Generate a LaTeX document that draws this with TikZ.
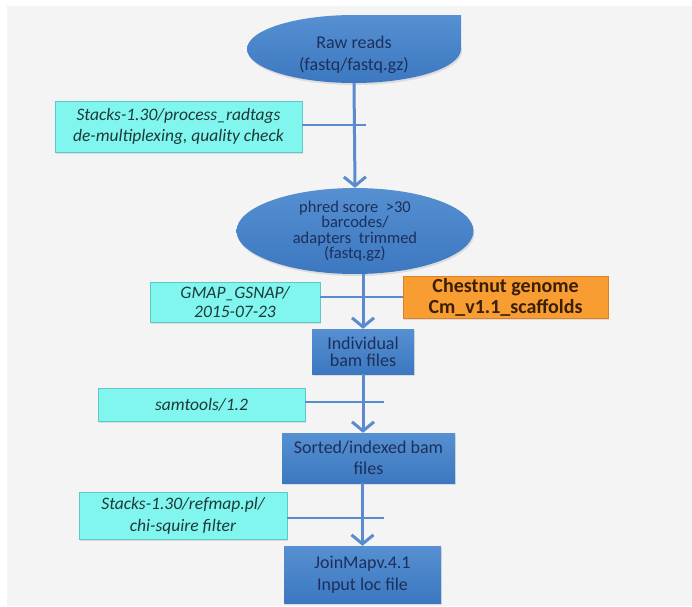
\documentclass[tikz,border=0pt]{standalone}
\usepackage{fontspec}
\setmainfont{Carlito}
\usetikzlibrary{arrows.meta,shapes.geometric,shadows}
\definecolor{bgpanel}{HTML}{F4F4F4}
\definecolor{flowblue}{HTML}{5B8BCF}
\definecolor{shapetop}{HTML}{5690D2}
\definecolor{shapebot}{HTML}{3C78C0}
\definecolor{navytext}{HTML}{1C2F5A}
\definecolor{cyanfill}{HTML}{80F6EF}
\definecolor{cyanline}{HTML}{5CC9C6}
\definecolor{cyantext}{HTML}{1E3A38}
\definecolor{orangefill}{HTML}{F79D32}
\definecolor{orangeline}{HTML}{D9822A}
\definecolor{orangetext}{HTML}{3A1E06}
\tikzset{
  blueshape/.style={top color=shapetop, bottom color=shapebot, draw=none,
    text=navytext, font=\fontsize{18}{21}\selectfont, align=center, inner sep=0pt,
    drop shadow={opacity=0.2, shadow xshift=1pt, shadow yshift=-2pt}},
  bluebox/.style={blueshape, rectangle},
  blueell/.style={blueshape, ellipse},
  bluetext/.style={text=navytext, font=\fontsize{18}{22}\selectfont, align=center, inner sep=0pt},
  toolbox/.style={rectangle, fill=cyanfill, draw=cyanline, line width=0.8pt,
    text=cyantext, font=\fontsize{17.5}{21}\selectfont\itshape, align=center, inner sep=0pt,
    drop shadow={opacity=0.2, shadow xshift=1pt, shadow yshift=-1.5pt}},
  refbox/.style={rectangle, fill=orangefill, draw=orangeline, line width=0.8pt,
    text=orangetext, font=\fontsize{20}{21}\selectfont\bfseries, align=center, inner sep=0pt,
    drop shadow={opacity=0.2, shadow xshift=1pt, shadow yshift=-1.5pt}},
  flow/.style={draw=flowblue, line width=3pt, -{Straight Barb[length=9pt,width=22pt,line width=3pt]}},
  tie/.style={draw=flowblue, line width=2.4pt}
}
\begin{document}
\begin{tikzpicture}[x=1pt,y=-1pt]
\useasboundingbox (0,0) rectangle (692,606);
\fill[white] (0,0) rectangle (692,606);
\fill[bgpanel] (7,6) rectangle (692,606);

% Raw reads shape (ellipse with squared top-right corner)
\node[blueell, minimum width=214pt, minimum height=68pt] (rawshape) at (354,49) {};
\fill[top color=shapetop, bottom color=shapetop!50!shapebot] (354,15) rectangle (461,49);
\node[bluetext] (raw) at (354,55) {Raw reads\\(fastq/fastq.gz)};

\node[blueell, minimum width=237pt, minimum height=84pt,
  font=\fontsize{16.5}{15.5}\selectfont] (trim) at (355,231)
  {phred score\ \ >30\\barcodes/\\adapters\ \ trimmed\\(fastq.gz)};

\node[toolbox, minimum width=247pt, minimum height=51pt] (t1) at (178.5,126.5)
  {Stacks-1.30/process\_radtags\\de-multiplexing, quality check};

\node[toolbox, minimum width=170pt, minimum height=40pt,
  font=\fontsize{17.5}{19}\selectfont\itshape] (t2) at (235,302)
  {GMAP\_GSNAP/\\2015-07-23};

\node[refbox, minimum width=205pt, minimum height=42pt] (genome) at (505.5,297)
  {Chestnut genome\\Cm\_v1.1\_scaffolds};

\node[bluebox, minimum width=102pt, minimum height=45pt,
  font=\fontsize{18}{17}\selectfont] (bam) at (363,351.5)
  {Individual\\bam files};

\node[toolbox, minimum width=207pt, minimum height=33pt] (t3) at (201.5,404.5)
  {samtools/1.2};

\node[bluebox, minimum width=173pt, minimum height=50pt] (sorted) at (368.5,458)
  {Sorted/indexed bam\\files};

\node[toolbox, minimum width=208pt, minimum height=47pt,
  font=\fontsize{17.5}{22}\selectfont\itshape] (t4) at (183,515.5)
  {Stacks-1.30/refmap.pl/\\chi-squire filter};

\node[bluebox, minimum width=157pt, minimum height=57pt,
  font=\fontsize{18}{22}\selectfont] (join) at (362.5,574.5)
  {JoinMapv.4.1\\Input loc file};

\coordinate (e1) at (366,125);
\coordinate (e3) at (384,402);
\coordinate (e4) at (384,518);

% connectors
\draw[tie] (t1.east |- e1) -- (e1);
\draw[tie] (t2.east |- genome.west) -- (genome.west);
\draw[tie] (t3.east |- e3) -- (e3);
\draw[tie] (t4.east |- e4) -- (e4);

\draw[flow] (rawshape.south) -- (trim.north);
\draw[flow] (bam.north |- trim.south) -- (bam.north);
\draw[flow] (bam.south) -- (bam.south |- sorted.north);
\draw[flow] (join.north |- sorted.south) -- (join.north);
\end{tikzpicture}
\end{document}
